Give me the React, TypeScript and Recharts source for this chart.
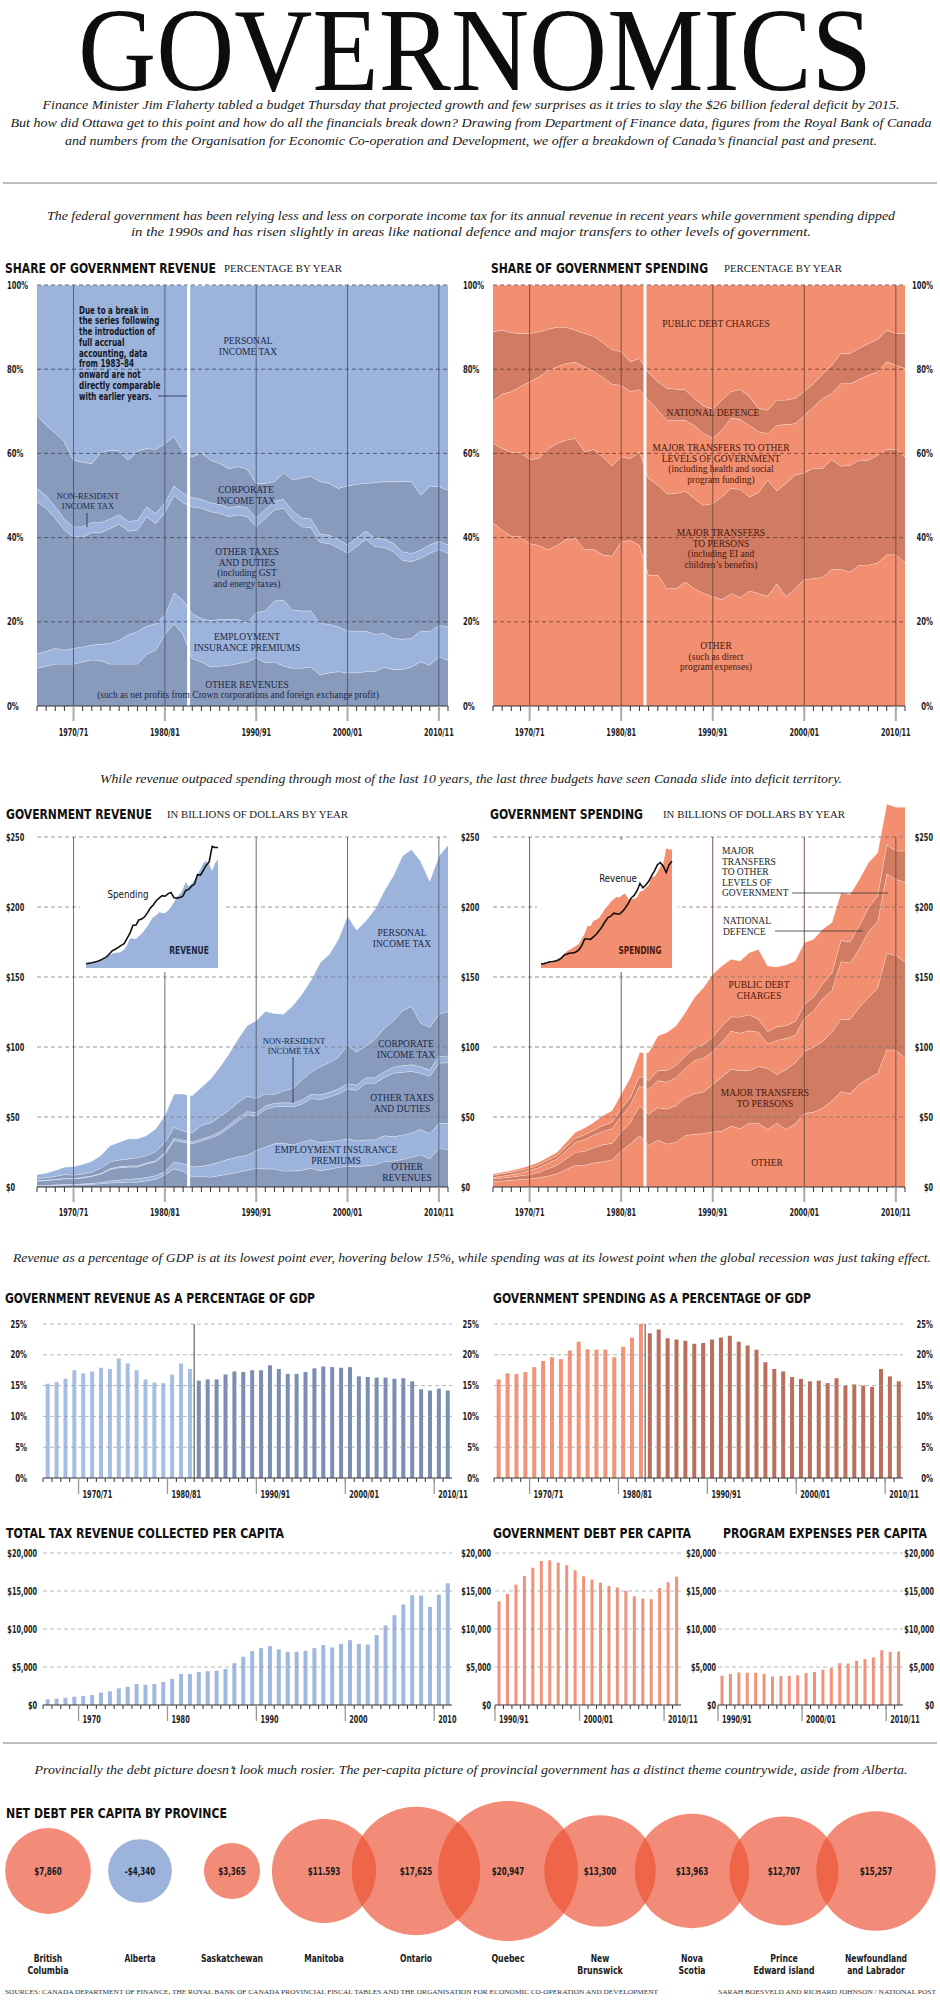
import React from 'react';
import {
  Area,
  AreaChart,
  Bar,
  BarChart,
  Cell,
  ComposedChart,
  Line,
  ReferenceLine,
  Scatter,
  ScatterChart,
  XAxis,
  YAxis,
  ZAxis,
} from 'recharts';

// ---------- categories ----------
const years = Array.from({ length: 46 }, (_, i) => 1966 + i);
const recentYears = Array.from({ length: 22 }, (_, i) => 1990 + i);
const decadeYears = [1970, 1980, 1990, 2000, 2010];
const fiscalLabels = ['1970/71', '1980/81', '1990/91', '2000/01', '2010/11'];
const calendarLabels = ['1970', '1980', '1990', '2000', '2010'];

// ---------- share of revenue (%) ----------
const revShareOther = [9, 9.5, 10, 10, 10, 10.5, 11, 10.8, 10, 10, 10, 10, 12.3, 13.3, 17, 19.6, 17, 11.3, 10.5, 9.3, 9.5, 9.7, 10.1, 10.5, 11.5, 10.3, 10.5, 9.5, 9, 9, 9.3, 7.4, 7.9, 8.2, 7.9, 7.9, 8.2, 8.2, 9.2, 8.7, 8.7, 9.3, 10.5, 9.7, 11.7, 10.9];
const revShareEI = [3.4, 3.5, 3.7, 3.3, 3.7, 3.6, 3.5, 3.9, 4.9, 5.7, 6.9, 7.7, 6.7, 6.3, 4.6, 7.3, 8.2, 10.7, 10.3, 11, 11.1, 10.9, 10.5, 9.3, 10.7, 12.3, 14.5, 15.7, 13.8, 13.6, 13.3, 12.2, 11.6, 10.6, 10, 9.9, 9.6, 8.9, 8.1, 7.4, 7.2, 6.8, 7.4, 8, 7.5, 7.9];
const revShareOtherTax = [36.1, 34, 30.9, 28.5, 26.5, 26.1, 26.7, 26.5, 27.3, 27.5, 24.7, 24.1, 26, 23.8, 24.4, 23.1, 23.1, 25.3, 26.2, 25.9, 25.2, 24.4, 24.8, 25.2, 20.4, 22, 21.6, 21.8, 21.5, 20, 19.8, 19.3, 19.1, 18.8, 18.4, 20.1, 21.8, 20.8, 20.4, 20.6, 18.8, 18.2, 17.2, 18.6, 18, 17.5];
const revShareNonRes = [3.2, 3, 2.8, 2.6, 2.4, 2.4, 2.4, 2.4, 2.3, 2.3, 2.3, 2.3, 2.3, 2.3, 2.3, 2.3, 2.3, 2.2, 2.1, 2.1, 2.1, 2.1, 2.1, 2.1, 2.1, 2.1, 2.1, 2.1, 2.1, 2.1, 2.1, 2, 2, 2, 2, 2, 2, 2, 2, 2, 2, 2, 2, 2, 2, 2];
const revShareCorp = [17.4, 16.7, 17.5, 18.4, 15.8, 15.3, 14, 16.6, 16.3, 15.1, 14.5, 16.5, 13.9, 15.3, 14.1, 11.8, 9.8, 9.7, 11.1, 10.1, 9.7, 9.3, 9.4, 9.2, 8.2, 6.2, 4.6, 6.3, 7.3, 9.5, 10.1, 12.4, 12.3, 12.1, 14, 12.8, 11.3, 13.2, 13.6, 14.6, 16.6, 17.1, 13, 14, 12.9, 13];
const revSharePersonal = [30.9, 33.3, 35.1, 37.2, 41.6, 42.1, 42.4, 39.8, 39.2, 39.4, 41.6, 39.4, 38.8, 39, 37.6, 35.9, 39.6, 40.8, 39.6, 41.6, 42.4, 43.6, 43.1, 43.7, 47.1, 47.1, 46.7, 44.6, 46.3, 45.8, 45.4, 46.7, 47.1, 48.3, 47.7, 47.3, 47.1, 46.9, 46.7, 46.7, 46.7, 46.6, 49.9, 47.7, 47.9, 48.7];

// ---------- share of spending (%) ----------
const spShareOther = [43.5, 41.8, 40.4, 40.4, 38.6, 38.2, 37.1, 38.2, 39.6, 39.8, 37.2, 37.3, 35.9, 35.6, 39, 39.4, 38.2, 31.1, 31.1, 27.9, 27.9, 29.5, 27.9, 26.8, 26, 25.3, 26.8, 25.8, 27.4, 26.8, 26.1, 29.1, 26, 27.9, 30.1, 30.3, 30.6, 32.5, 32.5, 31.9, 33.5, 33.5, 34, 35.9, 36, 34.1];
const spSharePersons = [19, 19.4, 19.9, 19.8, 20, 20.6, 23.9, 24.2, 23.6, 23.8, 23.2, 23.7, 23.3, 21.4, 20.2, 19.4, 22.2, 23, 21.4, 22.5, 22.6, 21.6, 21.4, 20.9, 22.1, 24.4, 24.9, 25.7, 22.3, 23.9, 27.6, 22, 26.9, 27, 25.3, 26.2, 25.9, 26.1, 24.5, 25.3, 24.9, 24.9, 25.6, 25.1, 25, 25.1];
const spShareLevels = [10, 12.9, 14.4, 15.7, 18.4, 19.4, 18.7, 18.2, 18.2, 18.1, 20.2, 18.6, 18.9, 19.5, 17, 15.9, 14.8, 18.6, 17.8, 17.5, 17.4, 16.8, 17.4, 17.1, 15.5, 15.9, 16.7, 16.6, 17, 14.5, 11.1, 15.6, 14, 12.2, 13.6, 14.6, 16.6, 15.7, 19.6, 19.4, 19.2, 20.2, 19.8, 20.8, 20, 21];
const spShareDefence = [16.4, 15.2, 14, 12.6, 11.5, 10.7, 9.8, 9.4, 8.6, 7.6, 7.9, 8.3, 8.2, 8.2, 8, 7.1, 7.4, 6.5, 6.7, 7.6, 7.4, 7.2, 6.4, 6.5, 6.9, 7.1, 6.3, 7.1, 6.8, 5.5, 5.5, 6, 5.8, 6, 5.7, 5.5, 5.8, 6.7, 7.2, 7.2, 7.4, 7.5, 7.7, 7.5, 7.5, 8.3];
const spShareDebt = [11.1, 10.7, 11.3, 11.5, 11.5, 11.1, 10.5, 10, 10, 10.7, 11.5, 12.1, 13.7, 15.3, 15.8, 18.2, 17.4, 20.8, 23, 24.5, 24.7, 24.9, 26.9, 28.7, 29.5, 27.3, 25.3, 24.8, 26.5, 29.3, 29.7, 27.3, 27.3, 26.9, 25.3, 23.4, 21.1, 19, 16.2, 16.2, 15, 13.9, 12.9, 10.7, 11.5, 11.5];

// ---------- revenue, $ billions ----------
const revOther = [0.8, 0.95, 1.2, 1.4, 1.5, 1.7, 2, 2.4, 3, 3.2, 3.5, 3.5, 4.5, 5.5, 8.7, 13, 11.3, 7.4, 7.5, 7.2, 8.2, 9.3, 10.7, 12, 13.4, 13, 13, 11.5, 11.6, 12.1, 13.4, 11.6, 12.8, 14.1, 15, 14.4, 15.1, 15.8, 18.3, 18.5, 19.8, 21.3, 23, 20.3, 27.5, 27];
const revEI = [0.3, 0.35, 0.4, 0.5, 0.5, 0.6, 0.7, 0.9, 1.4, 1.8, 2.3, 2.6, 2.5, 2.7, 2.3, 4.9, 5.5, 7, 7.5, 8.8, 9.8, 10.7, 10.9, 10.7, 12.8, 15.5, 18, 19.9, 18.6, 20.1, 20.6, 20.2, 19.8, 19.2, 19.6, 18.6, 18.6, 18, 18.4, 17.5, 17.4, 17.3, 18.3, 18, 18, 18.7];
const revOtherTax = [3.2, 3.4, 3.67, 4.03, 3.95, 4.21, 4.96, 6.06, 8.12, 8.86, 8.51, 8.31, 9.55, 9.84, 12.5, 15.4, 15.3, 16.6, 18, 18.9, 19.7, 22.3, 25.7, 28.9, 24.6, 26.9, 26.4, 26.3, 27.1, 27.2, 29.1, 30.9, 31.7, 33.3, 35.5, 36.1, 40.5, 40.4, 41.5, 45.4, 44.8, 44.1, 40, 40.8, 43.1, 43.2];
const revNonRes = [0.3, 0.3, 0.33, 0.37, 0.35, 0.39, 0.44, 0.54, 0.68, 0.74, 0.79, 0.79, 0.85, 0.96, 1.2, 1.5, 1.5, 1.4, 1.5, 1.6, 1.8, 2, 2.2, 2.4, 2.5, 2.6, 2.6, 2.6, 2.7, 2.9, 3.1, 3.2, 3.3, 3.5, 3.9, 3.7, 3.8, 4, 4.2, 4.4, 4.7, 4.8, 4.7, 4.4, 4.7, 4.9];
const revCorp = [1.6, 1.7, 2.1, 2.7, 2.3, 2.5, 2.6, 3.7, 4.9, 4.8, 5, 5.7, 5.1, 6.4, 7.2, 7.8, 6.6, 6.3, 9.5, 9.5, 10.5, 10.7, 10.9, 11, 10, 8.5, 6.3, 8.4, 10.5, 14.2, 15.8, 20.1, 21.4, 22.6, 27.5, 23.6, 22.8, 27.4, 31, 32.8, 39.3, 41.7, 31.2, 30.7, 30.1, 31.6];
const revPersonal = [2.8, 3.3, 4.2, 5.3, 6.1, 6.8, 7.8, 9, 11.6, 12.6, 14.4, 13.6, 14.3, 16.2, 19.2, 23.9, 26.3, 26.7, 27.3, 31.2, 35.6, 40, 45.4, 50.3, 55.5, 59, 57.7, 54.9, 59, 61.3, 65.8, 74.4, 77.3, 84.3, 92.2, 87.1, 89.3, 92.8, 98.1, 103.6, 110.5, 112, 115.7, 104.4, 113.1, 118.9];

// ---------- spending, $ billions ----------
const spOther = [4.1, 4.5, 4.8, 5.5, 5.9, 6.8, 7.9, 9.6, 12.7, 15.6, 15.7, 17.3, 18.3, 19.5, 25.9, 30.9, 36.7, 29.9, 33.6, 30.8, 32.2, 36.8, 37.8, 38.2, 39.5, 40, 43.6, 41.7, 45.9, 45.5, 41.2, 45.8, 41.3, 45.1, 52.6, 53.6, 56.4, 61.4, 68.3, 66.7, 73.6, 77.6, 81.2, 98.3, 97.7, 92.5];
const spPersons = [1.8, 2, 2.4, 2.6, 3.1, 3.7, 5.2, 6, 7.6, 9.3, 9.8, 10.9, 12, 11.7, 13.5, 15.2, 21.4, 22.1, 23.2, 24.9, 26, 27, 29, 29.8, 33.7, 38.5, 40.6, 41.5, 37.3, 40.6, 43.6, 34.6, 42.7, 43.6, 44.2, 46.4, 47.7, 49.3, 51.6, 52.9, 54.8, 57.7, 61.1, 68.7, 67.9, 68.2];
const spLevels = [1, 1.4, 1.7, 2.1, 2.9, 3.4, 4, 4.6, 5.8, 7.1, 8.6, 8.7, 9.6, 10.6, 11.3, 12.5, 14.2, 17.9, 19.2, 19.3, 20.1, 20.9, 23.6, 24.4, 23.5, 25.1, 27.2, 26.8, 28.5, 24.7, 17.6, 24.5, 22.2, 19.7, 23.7, 25.8, 30.6, 29.7, 41.2, 40.6, 42.2, 46.8, 47.3, 57, 54.2, 57];
const spDefence = [1.5, 1.7, 1.7, 1.7, 1.7, 1.9, 2.1, 2.3, 2.8, 3, 3.3, 3.8, 4.2, 4.5, 5.3, 5.5, 7.2, 6.3, 7.2, 8.4, 8.5, 9, 8.7, 9.3, 10.5, 11.3, 10.2, 11.5, 11.4, 9.3, 8.7, 9.5, 9.2, 9.7, 10, 9.8, 10.6, 12.6, 15.1, 15, 16.2, 17.4, 18.4, 20.5, 20.4, 22.5];
const spDebt = [1.1, 1.1, 1.3, 1.6, 1.8, 2, 2.2, 2.5, 3.2, 4.2, 4.9, 5.6, 7, 8.4, 10.5, 14.3, 16.7, 20, 24.9, 27.1, 28.5, 31.1, 36.4, 40.9, 44.9, 43.1, 41.2, 40.1, 44.4, 49.8, 46.9, 42.9, 43.3, 43.5, 44.2, 41.4, 38.9, 35.9, 34.1, 33.9, 33, 32.2, 30.8, 29.3, 31.2, 31.2];

// ---------- % of GDP ----------
const revenueGdp = [15.3, 15.6, 16.1, 17.5, 17.0, 17.3, 17.9, 17.7, 19.4, 18.6, 17.5, 16.0, 15.5, 15.4, 16.8, 18.6, 17.7, 15.8, 16.0, 16.0, 16.8, 17.3, 17.2, 17.5, 17.5, 18.3, 17.7, 16.9, 16.9, 17.2, 17.8, 18.1, 18.0, 17.9, 18.0, 16.5, 16.4, 16.3, 16.3, 16.1, 16.2, 15.7, 14.4, 14.2, 14.5, 14.2];
const spendingGdp = [16.0, 17.0, 16.9, 17.2, 18.0, 19.0, 19.6, 19.3, 20.7, 22.1, 20.9, 20.8, 20.8, 19.6, 21.3, 22.8, 25.2, 23.5, 24.1, 22.7, 22.5, 22.3, 21.8, 21.9, 22.5, 22.8, 23.1, 22.1, 21.5, 20.8, 18.8, 17.7, 17.3, 16.4, 16.1, 15.7, 15.8, 15.4, 16.2, 15.0, 15.2, 15.0, 14.8, 17.7, 16.5, 15.7];

// ---------- per capita ($) ----------
const taxPerCapita = [750, 830, 960, 1090, 1180, 1310, 1620, 1790, 2190, 2410, 2760, 2670, 2760, 3020, 3460, 4070, 4070, 4330, 4460, 4510, 4730, 5510, 6350, 7090, 7480, 7750, 7310, 7000, 7000, 7130, 7480, 7880, 7570, 8050, 8530, 8050, 7960, 9190, 10460, 11820, 13220, 14440, 14400, 12910, 14530, 16020];
const debtPerCapita = [13650, 14620, 15840, 16980, 18070, 18950, 19040, 18730, 18380, 17720, 16940, 16500, 16100, 15670, 15450, 15010, 14310, 14000, 13920, 15400, 16150, 16890];
const programPerCapita = [3850, 4070, 4280, 4250, 4250, 4100, 3750, 3800, 3850, 3900, 4200, 4350, 4650, 4850, 5500, 5450, 5800, 6050, 6250, 7200, 7000, 7050];

// ---------- provinces ----------
const provinces = ['British\nColumbia', 'Alberta', 'Saskatchewan', 'Manitoba', 'Ontario', 'Quebec', 'New\nBrunswick', 'Nova\nScotia', 'Prince\nEdward island', 'Newfoundland\nand Labrador'];
const provinceDebt = [7860, -4340, 3365, 11593, 17625, 20947, 13300, 13963, 12707, 15257];
const provinceDebtLabels = ['$7,860', '-$4,340', '$3,365', '$11.593', '$17,625', '$20,947', '$13,300', '$13,963', '$12,707', '$15,257'];

// ---------- tables ----------
const revenueShareTable = years.map((year, i) => ({
  year, other: revShareOther[i], ei: revShareEI[i], otherTax: revShareOtherTax[i],
  nonRes: revShareNonRes[i], corp: revShareCorp[i], personal: revSharePersonal[i],
}));
const spendingShareTable = years.map((year, i) => ({
  year, other: spShareOther[i], persons: spSharePersons[i], levels: spShareLevels[i],
  defence: spShareDefence[i], debt: spShareDebt[i],
}));
const revenueTable = years.map((year, i) => ({
  year, other: revOther[i], ei: revEI[i], otherTax: revOtherTax[i],
  nonRes: revNonRes[i], corp: revCorp[i], personal: revPersonal[i],
}));
const spendingTable = years.map((year, i) => ({
  year, other: spOther[i], persons: spPersons[i], levels: spLevels[i],
  defence: spDefence[i], debt: spDebt[i],
}));
const insetTable = years.map((year, i) => ({ year, rev: revenueTable[i], sp: spendingTable[i] }));
const revenueGdpTable = years.map((year, i) => ({ year, value: revenueGdp[i] }));
const spendingGdpTable = years.map((year, i) => ({ year, value: spendingGdp[i] }));
const taxTable = years.map((year, i) => ({ year, value: taxPerCapita[i] }));
const debtTable = recentYears.map((year, i) => ({ year, value: debtPerCapita[i] }));
const programTable = recentYears.map((year, i) => ({ year, value: programPerCapita[i] }));
const bubbleTable = provinces.map((name, i) => ({ name, debt: provinceDebt[i], label: provinceDebtLabels[i] }));

const total = (o: Record<string, number>) =>
  Object.keys(o).reduce((s, k) => (k === 'year' ? s : s + o[k]), 0);

// ---------- styles ----------
const NARROW = "'Liberation Sans Narrow', 'Arial Narrow', 'DejaVu Sans Condensed', sans-serif";
const SERIF = "'Liberation Serif', 'Times New Roman', serif";
const C = {
  revLight: '#9cb4dc',
  revDark: '#899bbd',
  spLight: '#f38f71',
  spDark: '#d17b62',
  gdpRevLight: '#a6bee4',
  gdpRevDark: '#7b8eb2',
  gdpSpLight: '#f39479',
  gdpSpDark: '#b86f5b',
  capBlue: '#a0b8e0',
  capSalmon: '#f3917a',
  navy: '#1b2846',
  brown: '#4a170b',
};

// width of a string set in a narrow grotesque (Arial-bold metrics x 0.82), so
// whichever condensed face is installed is fitted to the same width
const UP = 'ABCDEFGHIJKLMNOPQRSTUVWXYZ';
const UPW = [722, 722, 722, 722, 667, 611, 778, 722, 278, 556, 722, 611, 833, 722, 778, 667, 778, 722, 667, 611, 722, 667, 944, 667, 667, 611];
const LO = 'abcdefghijklmnopqrstuvwxyz';
const LOW = [556, 611, 556, 611, 556, 333, 611, 611, 278, 278, 556, 278, 889, 611, 611, 611, 611, 389, 556, 333, 611, 556, 778, 556, 556, 500];
const PUNCT: Record<string, number> = { ' ': 278, '$': 556, '%': 889, ',': 278, '-': 333, '.': 278, '/': 278, '(': 333, ')': 333, '–': 556, '’': 278 };
const glyphW = (ch: string) => {
  const u = UP.indexOf(ch);
  if (u >= 0) return UPW[u];
  const l = LO.indexOf(ch);
  if (l >= 0) return LOW[l];
  if (ch >= '0' && ch <= '9') return 556;
  return PUNCT[ch] ?? 556;
};
const narrowLen = (s: string, size: number) =>
  (Array.from(s).reduce((w, ch) => w + glyphW(ch), 0) * size * 0.82) / 1000;

function NText({ x, y, dy, size = 10, anchor = 'start', weight = 700, fill = '#222', children }: any) {
  const s = String(children);
  return (
    <text
      x={x} y={y} dy={dy} fontSize={size} fontFamily={NARROW} fontWeight={weight} fill={fill}
      textAnchor={anchor} textLength={narrowLen(s, size)} lengthAdjust="spacingAndGlyphs"
    >
      {s}
    </text>
  );
}

const revSeries = [
  { key: 'other', fill: C.revDark },
  { key: 'ei', fill: C.revLight },
  { key: 'otherTax', fill: C.revDark },
  { key: 'nonRes', fill: C.revLight },
  { key: 'corp', fill: C.revDark },
  { key: 'personal', fill: C.revLight },
];
const spSeries = [
  { key: 'other', fill: C.spLight },
  { key: 'persons', fill: C.spDark },
  { key: 'levels', fill: C.spLight },
  { key: 'defence', fill: C.spDark },
  { key: 'debt', fill: C.spLight },
];

type Col = { x: number; anchor: 'start' | 'end' };

const makeYTick = (cols: Col[], fmt: (v: number) => string) => (p: any) => (
  <g>
    {cols.map((c, i) => (
      <NText key={i} x={c.x} y={p.y} dy={3.5} anchor={c.anchor}>{fmt(p.payload.value)}</NText>
    ))}
  </g>
);

const makeYearTick = (labelDy: number) => (p: any) => {
  const di = decadeYears.indexOf(p.payload.value);
  return (
    <g>
      <line x1={p.x} x2={p.x} y1={p.y} y2={p.y + 5} stroke="#333" strokeWidth={1} />
      {di >= 0 && <line x1={p.x} x2={p.x} y1={p.y} y2={p.y + 15} stroke="#aaa" strokeWidth={2} />}
      {di >= 0 && <NText x={p.x} y={p.y + labelDy} anchor="middle">{fiscalLabels[di]}</NText>}
    </g>
  );
};

const makeBandTick = (band: number, labels: string[], labelDy: number) => (p: any) => {
  const x0 = p.x - band / 2;
  const di = decadeYears.indexOf(p.payload.value);
  return (
    <g>
      <line x1={x0} x2={x0} y1={p.y} y2={p.y + 4} stroke="#333" strokeWidth={1} />
      {di >= 0 && <line x1={x0} x2={x0} y1={p.y} y2={p.y + 16} stroke="#999" strokeWidth={1.3} />}
      {di >= 0 && <NText x={x0 + 4} y={p.y + labelDy}>{labels[di]}</NText>}
    </g>
  );
};

function StackedPanel(props: any) {
  const {
    data, series, left, top, width, height, marginTop, marginRight, yWidth, xHeight,
    yMax, ticks, fmt, cols, grid, decade, lineTop, breakTop, labelDy,
  } = props;
  return (
    <div style={{ position: 'absolute', left, top }}>
      <AreaChart width={width} height={height} data={data} margin={{ top: marginTop, right: marginRight, bottom: 0, left: 0 }}>
        <XAxis
          dataKey="year" type="number" domain={[1966, 2011]} ticks={years} interval={0}
          tickLine={false} tickSize={0} tickMargin={0} height={xHeight}
          axisLine={{ stroke: '#333', strokeWidth: 1 }} tick={makeYearTick(labelDy)}
        />
        <YAxis
          type="number" domain={[0, yMax]} ticks={ticks} interval={0} width={yWidth}
          axisLine={false} tickLine={false} tick={makeYTick(cols, fmt)} allowDataOverflow
        />
        {series.map((s: any) => (
          <Area
            key={s.key} type="linear" dataKey={s.key} stackId="s" fill={s.fill} fillOpacity={1}
            stroke="#fff" strokeWidth={0.8} strokeOpacity={0.9} dot={false} activeDot={false}
            isAnimationActive={false}
          />
        ))}
        {ticks.filter((t: number) => t > 0).map((t: number) => (
          <ReferenceLine key={`g${t}`} y={t} stroke={grid} strokeDasharray="4 3" strokeWidth={0.8} />
        ))}
        {decadeYears.map((d) => (
          <ReferenceLine key={`d${d}`} segment={[{ x: d, y: 0 }, { x: d, y: lineTop }]} stroke={decade} strokeWidth={0.9} />
        ))}
        <ReferenceLine segment={[{ x: 1982.6, y: 0 }, { x: 1982.6, y: breakTop }]} stroke="#fff" strokeWidth={3} />
      </AreaChart>
    </div>
  );
}

function BarPanel(props: any) {
  const {
    data, left, top, width, height, marginTop, marginRight, yWidth, xHeight, yMax, ticks,
    fmt, cols, band, labels, labelDy, fillFor, divider, gap,
  } = props;
  return (
    <div style={{ position: 'absolute', left, top }}>
      <BarChart
        width={width} height={height} data={data} barCategoryGap={gap}
        margin={{ top: marginTop, right: marginRight, bottom: 0, left: 0 }}
      >
        <XAxis
          dataKey="year" type="category" interval={0} tickLine={false} tickSize={0} tickMargin={0}
          height={xHeight} axisLine={{ stroke: '#333', strokeWidth: 1 }}
          tick={makeBandTick(band, labels, labelDy)}
        />
        <YAxis
          type="number" domain={[0, yMax]} ticks={ticks} interval={0} width={yWidth}
          axisLine={false} tickLine={false} tick={makeYTick(cols, fmt)} allowDataOverflow
        />
        <Bar dataKey="value" isAnimationActive={false}>
          {data.map((d: any, i: number) => (
            <Cell key={i} fill={fillFor(d.year)} />
          ))}
        </Bar>
        {ticks.filter((t: number) => t > 0).map((t: number) => (
          <ReferenceLine key={`g${t}`} y={t} stroke="#9a9a9a" strokeDasharray="4 3" strokeWidth={0.7} />
        ))}
        {divider && <ReferenceLine x={1983} position="start" stroke="#444" strokeWidth={1} />}
      </BarChart>
    </div>
  );
}

function Inset({ left, top, width, height, margin, areaKey, lineKey, fill }: any) {
  return (
    <div style={{ position: 'absolute', left, top, width, height, background: '#fff' }}>
      <ComposedChart width={width} height={height} data={insetTable} margin={margin}>
        <XAxis dataKey="year" type="number" domain={[1966, 2011]} hide />
        <YAxis type="number" domain={[0, 277]} hide />
        <Area type="linear" dataKey={areaKey} fill={fill} fillOpacity={1} stroke="none" isAnimationActive={false} />
        <Line type="linear" dataKey={lineKey} stroke="#111" strokeWidth={1.6} dot={false} isAnimationActive={false} />
      </ComposedChart>
    </div>
  );
}

function Bubble(p: any) {
  const r = p.width / 2;
  const neg = p.payload.debt < 0;
  return (
    <g>
      <circle cx={p.cx} cy={p.cy} r={r} fill={neg ? C.revLight : '#ec5032'} fillOpacity={neg ? 1 : 0.66} />
      <NText x={p.cx} y={p.cy + 4} size={11} anchor="middle" fill="#1a1a1a">{p.payload.label}</NText>
    </g>
  );
}

const ProvinceTick = (p: any) => {
  const lines = String(p.payload.value).split('\n');
  return (
    <g>
      {lines.map((l, i) => (
        <NText key={i} x={p.x} y={p.y + 21 + i * 11.5} size={11} anchor="middle" fill="#1a1a1a">{l}</NText>
      ))}
    </g>
  );
};

// ---------- text helpers ----------
function Lines({ x, y, lines, size = 9.5, step = 10.5, anchor = 'middle', fill = C.navy, narrow = false, weight = 400 }: any) {
  return (
    <>
      {lines.map((l: string, i: number) =>
        narrow ? (
          <NText key={i} x={x} y={y + i * step + size * 0.35} size={size} anchor={anchor} weight={weight} fill={fill}>{l}</NText>
        ) : (
          <text
            key={i} x={x} y={y + i * step + size * 0.35} fontSize={size} fontFamily={SERIF}
            fontWeight={weight} fill={fill} textAnchor={anchor}
          >
            {l}
          </text>
        ),
      )}
    </>
  );
}

function Fit({ x, y, len, size, children, anchor = 'start', family = SERIF, weight = 400, italic = false, fill = '#111' }: any) {
  return (
    <text
      x={x} y={y} fontSize={size} fontFamily={family} fontWeight={weight} fill={fill}
      fontStyle={italic ? 'italic' : 'normal'} textAnchor={anchor} textLength={len} lengthAdjust="spacingAndGlyphs"
    >
      {children}
    </text>
  );
}

const Head = ({ x, y, len, children }: any) => (
  <Fit x={x} y={y} len={len} size={14.5} family={NARROW} weight={700} fill="#111">{children}</Fit>
);
const Sub = ({ x, y, len, children }: any) => (
  <Fit x={x} y={y} len={len} size={10.5} fill="#222">{children}</Fit>
);
const Say = ({ y, len, children, cx = 471 }: any) => (
  <Fit x={cx} y={y} len={len} size={13.5} italic anchor="middle" fill="#1a1a1a">{children}</Fit>
);

const pct = (v: number) => `${v}%`;
const usd = (v: number) => `$${v}`;
const usdK = (v: number) => `$${v.toLocaleString('en-US')}`;

export default function App() {
  return (
    <div style={{ position: 'relative', width: 940, height: 2014, background: '#fff', overflow: 'hidden' }}>
      <style>{'body{margin:0;background:#fff}'}</style>

      {/* share of revenue / spending */}
      <StackedPanel
        data={revenueShareTable} series={revSeries} left={0} top={275} width={490} height={470}
        marginTop={10} marginRight={42} yWidth={37} xHeight={39} yMax={100} ticks={[0, 20, 40, 60, 80, 100]}
        fmt={pct} cols={[{ x: 7, anchor: 'start' }, { x: 463, anchor: 'start' }]}
        grid="#3a4660" decade="#4b5673" lineTop={100} breakTop={100} labelDy={29.5}
      />
      <StackedPanel
        data={spendingShareTable} series={spSeries} left={488} top={275} width={452} height={470}
        marginTop={10} marginRight={35} yWidth={5} xHeight={39} yMax={100} ticks={[0, 20, 40, 60, 80, 100]}
        fmt={pct} cols={[{ x: 445, anchor: 'end' }]}
        grid="#6b3a2c" decade="#74463a" lineTop={100} breakTop={100} labelDy={29.5}
      />

      {/* dollars */}
      <StackedPanel
        data={revenueTable} series={revSeries} left={0} top={780} width={490} height={460}
        marginTop={15} marginRight={42} yWidth={37} xHeight={53} yMax={280} ticks={[0, 50, 100, 150, 200, 250]}
        fmt={usd} cols={[{ x: 6, anchor: 'start' }, { x: 461, anchor: 'start' }]}
        grid="#7a7f8a" decade="#555c6a" lineTop={250} breakTop={68} labelDy={28.5}
      />
      <StackedPanel
        data={spendingTable} series={spSeries} left={488} top={780} width={452} height={460}
        marginTop={15} marginRight={35} yWidth={5} xHeight={53} yMax={280} ticks={[0, 50, 100, 150, 200, 250]}
        fmt={usd} cols={[{ x: 445, anchor: 'end' }]}
        grid="#86726c" decade="#6b4a40" lineTop={250} breakTop={97} labelDy={28.5}
      />
      <Inset
        left={80} top={838} width={143} height={134} margin={{ top: 7, right: 5, bottom: 4, left: 6 }}
        areaKey={(d: any) => total(d.rev)} lineKey={(d: any) => total(d.sp)} fill={C.revLight}
      />
      <Inset
        left={537} top={840} width={141} height={132} margin={{ top: 7, right: 6, bottom: 4, left: 4 }}
        areaKey={(d: any) => total(d.sp)} lineKey={(d: any) => total(d.rev)} fill={C.spLight}
      />

      {/* % of GDP */}
      <BarPanel
        data={revenueGdpTable} left={0} top={1315} width={496} height={200} marginTop={9} marginRight={44}
        yWidth={43} xHeight={37} yMax={25} ticks={[0, 5, 10, 15, 20, 25]} fmt={pct}
        cols={[{ x: 27, anchor: 'end' }, { x: 479, anchor: 'end' }]} band={409 / 46}
        labels={fiscalLabels} labelDy={19.5} gap="30%" divider
        fillFor={(y: number) => (y < 1983 ? C.gdpRevLight : C.gdpRevDark)}
      />
      <BarPanel
        data={spendingGdpTable} left={488} top={1315} width={452} height={200} marginTop={9} marginRight={37}
        yWidth={6} xHeight={37} yMax={25} ticks={[0, 5, 10, 15, 20, 25]} fmt={pct}
        cols={[{ x: 445, anchor: 'end' }]} band={409 / 46}
        labels={fiscalLabels} labelDy={19.5} gap="30%" divider
        fillFor={(y: number) => (y < 1983 ? C.gdpSpLight : C.gdpSpDark)}
      />

      {/* per capita */}
      <BarPanel
        data={taxTable} left={0} top={1545} width={506} height={190} marginTop={8} marginRight={54}
        yWidth={43} xHeight={30} yMax={20000} ticks={[0, 5000, 10000, 15000, 20000]} fmt={usdK}
        cols={[{ x: 37, anchor: 'end' }, { x: 491, anchor: 'end' }]} band={409 / 46}
        labels={calendarLabels} labelDy={17.5} gap="30%" fillFor={() => C.capBlue}
      />
      <BarPanel
        data={debtTable} left={494} top={1545} width={236} height={190} marginTop={8} marginRight={49}
        yWidth={1} xHeight={30} yMax={20000} ticks={[0, 5000, 10000, 15000, 20000]} fmt={usdK}
        cols={[{ x: 222, anchor: 'end' }]} band={186 / 22}
        labels={fiscalLabels} labelDy={17.5} gap="30%" fillFor={() => C.capSalmon}
      />
      <BarPanel
        data={programTable} left={717} top={1545} width={223} height={190} marginTop={8} marginRight={37}
        yWidth={1} xHeight={30} yMax={20000} ticks={[0, 5000, 10000, 15000, 20000]} fmt={usdK}
        cols={[{ x: 217, anchor: 'end' }]} band={185 / 22}
        labels={fiscalLabels} labelDy={17.5} gap="30%" fillFor={() => C.capSalmon}
      />

      {/* provinces */}
      <div style={{ position: 'absolute', left: 0, top: 1790 }}>
        <ScatterChart width={940} height={200} margin={{ top: 11, right: 18, bottom: 9, left: 2 }}>
          <XAxis
            dataKey="name" type="category" allowDuplicatedCategory={false} interval={0}
            axisLine={false} tickLine={false} tickSize={0} tickMargin={0} height={40} tick={ProvinceTick}
          />
          <YAxis type="number" dataKey={() => 0} domain={[-1, 1]} hide />
          <ZAxis type="number" dataKey={(d: any) => Math.abs(d.debt)} domain={[0, 'dataMax']} range={[0, Math.PI * 70 * 70]} />
          <Scatter data={bubbleTable} shape={Bubble} isAnimationActive={false} />
        </ScatterChart>
      </div>

      {/* all page text */}
      <svg width={940} height={2014} style={{ position: 'absolute', left: 0, top: 0, pointerEvents: 'none' }}>
        <Fit x={78} y={90} len={794} size={118} fill="#0d0d0d">GOVERNOMICS</Fit>
        <Say y={109} len={857}>Finance Minister Jim Flaherty tabled a budget Thursday that projected growth and few surprises as it tries to slay the $26 billion federal deficit by 2015.</Say>
        <Say y={127} len={921}>But how did Ottawa get to this point and how do all the financials break down? Drawing from Department of Finance data, figures from the Royal Bank of Canada</Say>
        <Say y={145} len={812}>and numbers from the Organisation for Economic Co-operation and Development, we offer a breakdown of Canada’s financial past and present.</Say>
        <line x1={3} x2={937} y1={183} y2={183} stroke="#7a7a7a" strokeWidth={1} />
        <Say y={220} len={848}>The federal government has been relying less and less on corporate income tax for its annual revenue in recent years while government spending dipped</Say>
        <Say y={236} len={680}>in the 1990s and has risen slightly in areas like national defence and major transfers to other levels of government.</Say>

        <Head x={5} y={273} len={211}>SHARE OF GOVERNMENT REVENUE</Head>
        <Sub x={224} y={272} len={118}>PERCENTAGE BY YEAR</Sub>
        <Head x={491} y={273} len={217}>SHARE OF GOVERNMENT SPENDING</Head>
        <Sub x={724} y={272} len={118}>PERCENTAGE BY YEAR</Sub>

        <Lines x={79} y={310} step={10.75} size={10.5} anchor="start" narrow weight={700} fill="#14171f"
          lines={['Due to a break in', 'the series following', 'the introduction of', 'full accrual', 'accounting, data', 'from 1983–84', 'onward are not', 'directly comparable', 'with earlier years.']} />
        <line x1={158} x2={187} y1={396} y2={396} stroke="#1b2846" strokeWidth={0.8} />
        <Lines x={248} y={341} lines={['PERSONAL', 'INCOME TAX']} />
        <Lines x={246} y={490} lines={['CORPORATE', 'INCOME TAX']} />
        <Lines x={88} y={496} size={8.5} lines={['NON-RESIDENT', 'INCOME TAX']} />
        <line x1={87} x2={87} y1={513} y2={527} stroke="#1b2846" strokeWidth={0.8} />
        <Lines x={247} y={552} lines={['OTHER TAXES', 'AND DUTIES', '(including GST', 'and energy taxes)']} />
        <Lines x={247} y={637} lines={['EMPLOYMENT', 'INSURANCE PREMIUMS']} />
        <Lines x={247} y={685} lines={['OTHER REVENUES']} />
        <Lines x={238} y={695} lines={['(such as net profits from  Crown corporations and foreign exchange profit)']} />

        <Lines x={716} y={324} fill={C.brown} lines={['PUBLIC DEBT CHARGES']} />
        <Lines x={713} y={413} fill={C.brown} lines={['NATIONAL DEFENCE']} />
        <Lines x={721} y={448} fill={C.brown} lines={['MAJOR TRANSFERS TO OTHER', 'LEVELS OF GOVERNMENT', '(including health and social', 'program funding)']} />
        <Lines x={721} y={533} fill={C.brown} lines={['MAJOR TRANSFERS', 'TO PERSONS', '(including EI and', 'children’s benefits)']} />
        <Lines x={716} y={646} fill={C.brown} lines={['OTHER', '(such as direct', 'program expenses)']} />

        <Say y={783} len={742}>While revenue outpaced spending through most of the last 10 years, the last three budgets have seen Canada slide into deficit territory.</Say>

        <Head x={6} y={819} len={146}>GOVERNMENT REVENUE</Head>
        <Sub x={167} y={818} len={181}>IN BILLIONS OF DOLLARS BY YEAR</Sub>
        <Head x={490} y={819} len={153}>GOVERNMENT SPENDING</Head>
        <Sub x={663} y={818} len={182}>IN BILLIONS OF DOLLARS BY YEAR</Sub>

        <Lines x={128} y={894} size={11} narrow fill="#111" lines={['Spending']} />
        <Lines x={189} y={950} size={10} narrow weight={700} fill={C.navy} lines={['REVENUE']} />
        <Lines x={402} y={933} lines={['PERSONAL', 'INCOME TAX']} />
        <Lines x={294} y={1041} size={8.5} lines={['NON-RESIDENT', 'INCOME TAX']} />
        <line x1={293} x2={293} y1={1057} y2={1103} stroke="#1b2846" strokeWidth={0.8} />
        <Lines x={406} y={1044} lines={['CORPORATE', 'INCOME TAX']} />
        <Lines x={402} y={1098} lines={['OTHER TAXES', 'AND DUTIES']} />
        <Lines x={336} y={1150} lines={['EMPLOYMENT INSURANCE', 'PREMIUMS']} />
        <Lines x={407} y={1167} lines={['OTHER', 'REVENUES']} />

        <Lines x={618} y={878} size={11} narrow fill="#111" lines={['Revenue']} />
        <Lines x={640} y={950} size={10} narrow weight={700} fill={C.brown} lines={['SPENDING']} />
        <Lines x={722} y={851} anchor="start" fill="#222" lines={['MAJOR', 'TRANSFERS', 'TO OTHER', 'LEVELS OF', 'GOVERNMENT']} />
        <line x1={792} x2={888} y1={893} y2={893} stroke="#333" strokeWidth={0.8} />
        <Lines x={723} y={921} anchor="start" fill="#222" lines={['NATIONAL', 'DEFENCE']} />
        <line x1={775} x2={863} y1={931} y2={931} stroke="#333" strokeWidth={0.8} />
        <Lines x={759} y={985} fill={C.brown} lines={['PUBLIC DEBT', 'CHARGES']} />
        <Lines x={765} y={1093} fill={C.brown} lines={['MAJOR TRANSFERS', 'TO PERSONS']} />
        <Lines x={767} y={1163} fill={C.brown} lines={['OTHER']} />

        <Say y={1262} len={918} cx={472}>Revenue as a percentage of GDP is at its lowest point ever, hovering below 15%, while spending was at its lowest point when the global recession was just taking effect.</Say>
        <Head x={5} y={1303} len={310}>GOVERNMENT REVENUE AS A PERCENTAGE OF GDP</Head>
        <Head x={493} y={1303} len={318}>GOVERNMENT SPENDING AS A PERCENTAGE OF GDP</Head>

        <Head x={6} y={1538} len={278}>TOTAL TAX REVENUE COLLECTED PER CAPITA</Head>
        <Head x={493} y={1538} len={198}>GOVERNMENT DEBT PER CAPITA</Head>
        <Head x={723} y={1538} len={204}>PROGRAM EXPENSES PER CAPITA</Head>

        <line x1={3} x2={937} y1={1743} y2={1743} stroke="#7a7a7a" strokeWidth={1} />
        <Say y={1774} len={873}>Provincially the debt picture doesn’t look much rosier. The per-capita picture of provincial government has a distinct theme countrywide, aside from Alberta.</Say>
        <Head x={6} y={1818} len={221}>NET DEBT PER CAPITA BY PROVINCE</Head>

        <Fit x={5} y={1994} len={653} size={7} fill="#333">SOURCES: CANADA DEPARTMENT OF FINANCE, THE ROYAL BANK OF CANADA PROVINCIAL FISCAL TABLES AND THE ORGANISATION FOR ECONOMIC CO-OPERATION AND DEVELOPMENT</Fit>
        <Fit x={718} y={1994} len={218} size={7} fill="#333">SARAH BOESVELD AND RICHARD JOHNSON / NATIONAL POST</Fit>
      </svg>
    </div>
  );
}
